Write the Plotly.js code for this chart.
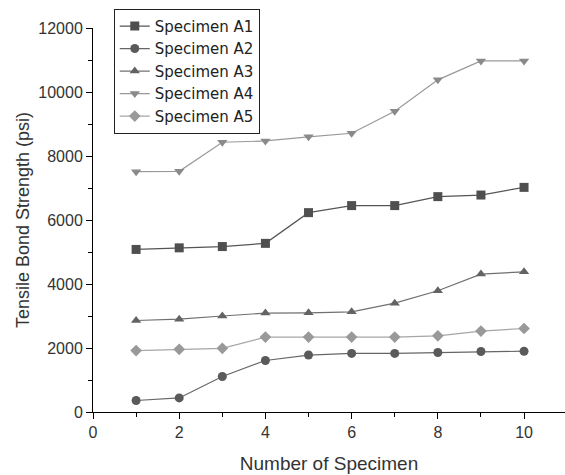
<!DOCTYPE html>
<html>
<head>
<meta charset="utf-8">
<script src="https://cdn.plot.ly/plotly-3.0.1.min.js"></script>
<style>html,body{margin:0;padding:0;background:#fff;}#chart{width:565px;height:475px;}</style>
</head>
<body>
<div id="chart"></div>
<script>
const specimenNo = [1, 2, 3, 4, 5, 6, 7, 8, 9, 10];
const seriesNames = ["Specimen A1", "Specimen A2", "Specimen A3", "Specimen A4", "Specimen A5"];
const a1 = [5080, 5130, 5170, 5270, 6230, 6450, 6450, 6730, 6780, 7020];
const a2 = [360, 440, 1110, 1610, 1780, 1830, 1830, 1860, 1890, 1900];
const a3 = [2860, 2900, 3000, 3090, 3100, 3130, 3400, 3790, 4310, 4380];
const a4 = [7510, 7520, 8430, 8470, 8600, 8710, 9400, 10380, 10970, 10970];
const a5 = [1920, 1960, 1990, 2340, 2340, 2340, 2340, 2380, 2530, 2610];
const seriesValues = [a1, a2, a3, a4, a5];
const symbols = ["square", "circle", "triangle-up", "triangle-down", "diamond"];
const markerColors = ["#4f4f4f", "#5a5a5a", "#636363", "#8a8a8a", "#999999"];
const lineColors = ["#555555", "#666666", "#707070", "#999999", "#a6a6a6"];

const traces = seriesValues.map((vals, i) => ({
  x: specimenNo,
  y: vals,
  name: seriesNames[i],
  type: "scatter",
  mode: "lines+markers",
  line: {color: lineColors[i], width: 1.2},
  marker: {symbol: symbols[i], size: 9, color: markerColors[i]}
}));

const layout = {
  width: 565, height: 475,
  margin: {l: 93, r: 0, t: 28, b: 63},
  paper_bgcolor: "#fff", plot_bgcolor: "#fff",
  font: {family: "Liberation Sans, Arial, sans-serif", color: "#333", size: 16},
  showlegend: true,
  legend: {
    x: 0.044, y: 1.05, xanchor: "left", yanchor: "top",
    bordercolor: "#222", borderwidth: 1, bgcolor: "#fff",
    font: {family: "DejaVu Sans, sans-serif", size: 15, color: "#222"},
    tracegroupgap: 0, itemwidth: 30
  },
  xaxis: {
    range: [0, 10.95], tickmode: "linear", tick0: 0, dtick: 2,
    showline: true, linecolor: "#000", linewidth: 1,
    ticks: "outside", ticklen: 6, tickcolor: "#000", tickwidth: 1,
    minor: {tick0: 0, dtick: 1, ticks: "outside", ticklen: 4, tickcolor: "#000", tickwidth: 1, showgrid: false},
    showgrid: false, zeroline: false,
    tickfont: {size: 16, color: "#333"},
    title: {text: "Number of Specimen", font: {size: 19, color: "#333"}, standoff: 16}
  },
  yaxis: {
    range: [0, 12000], tickmode: "linear", tick0: 0, dtick: 2000, tickformat: "d",
    showline: true, linecolor: "#000", linewidth: 1,
    ticks: "outside", ticklen: 6, tickcolor: "#000", tickwidth: 1,
    minor: {tick0: 0, dtick: 1000, ticks: "outside", ticklen: 4, tickcolor: "#000", tickwidth: 1, showgrid: false},
    showgrid: false, zeroline: false,
    tickfont: {size: 16, color: "#333"},
    title: {text: "\u00a0\u00a0\u00a0\u00a0\u00a0\u00a0Tensile Bond Strength (psi)", font: {size: 18, color: "#333"}, standoff: 3}
  }
};

Plotly.newPlot("chart", traces, layout, {displayModeBar: false, staticPlot: true});
</script>
</body>
</html>
